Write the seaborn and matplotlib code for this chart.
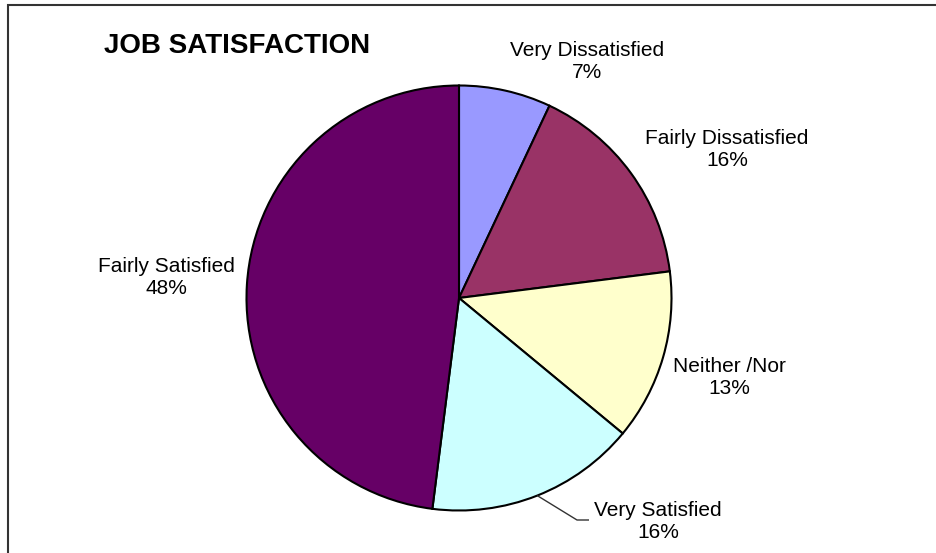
import numpy as np
import matplotlib
matplotlib.use("Agg")
import matplotlib.pyplot as plt
from matplotlib.patches import Rectangle
import seaborn as sns

# Survey results
categories = ["Very Dissatisfied", "Fairly Dissatisfied", "Neither /Nor",
              "Very Satisfied", "Fairly Satisfied"]
shares = [7, 16, 13, 16, 48]
slice_colors = ["#9999FF", "#993366", "#FFFFCC", "#CCFFFF", "#660066"]
title = "JOB SATISFACTION"

sns.set_theme(style="white")
plt.rcParams["font.family"] = ["Liberation Sans", "DejaVu Sans"]

W, H = 936, 553
fig = plt.figure(figsize=(W / 100, H / 100), dpi=100)
ax = fig.add_axes([0, 0, 1, 1])


def py(y):
    """Convert a top-down pixel row into the axes' bottom-up coordinate."""
    return H - y


cx, cy, r = 459.0, py(298.0), 212.5

wedges, _ = ax.pie(
    shares,
    colors=slice_colors,
    startangle=90,
    counterclock=False,
    center=(cx, cy),
    radius=r,
    frame=True,
    wedgeprops=dict(edgecolor="black", linewidth=1.5),
)
ax.set_xlim(0, W)
ax.set_ylim(0, H)
ax.set_aspect("equal")
ax.axis("off")

# Data label anchors (centre of each two-line label)
label_pos = [(587, 62), (727, 149), (729, 377), (658, 521), (166.5, 277)]
for name, val, (lx, ly) in zip(categories, shares, label_pos):
    ax.text(lx, py(ly), f"{name}\n{val}%", ha="center", va="center",
            fontsize=15, color="black", linespacing=1.2)

# Leader line for the "Very Satisfied" label
w = wedges[3]
mid = np.deg2rad((w.theta1 + w.theta2) / 2)
sx, sy = cx + r * np.cos(mid), cy + r * np.sin(mid)
lx, ly = label_pos[3]
ax.plot([sx, lx - 81, lx - 69], [sy, py(ly - 1), py(ly - 1)],
        color="#333333", linewidth=1.0, solid_capstyle="butt")

# Title
ax.text(104, py(46), title, ha="left", va="center", fontsize=20,
        fontweight="bold", color="black")

# Chart frame (continues past the right and bottom edges)
ax.add_patch(Rectangle((8, py(5) - 700), 1200, 700, fill=False,
                       edgecolor="#333333", linewidth=1.5, clip_on=False))

fig.savefig("out.png", dpi=100)
